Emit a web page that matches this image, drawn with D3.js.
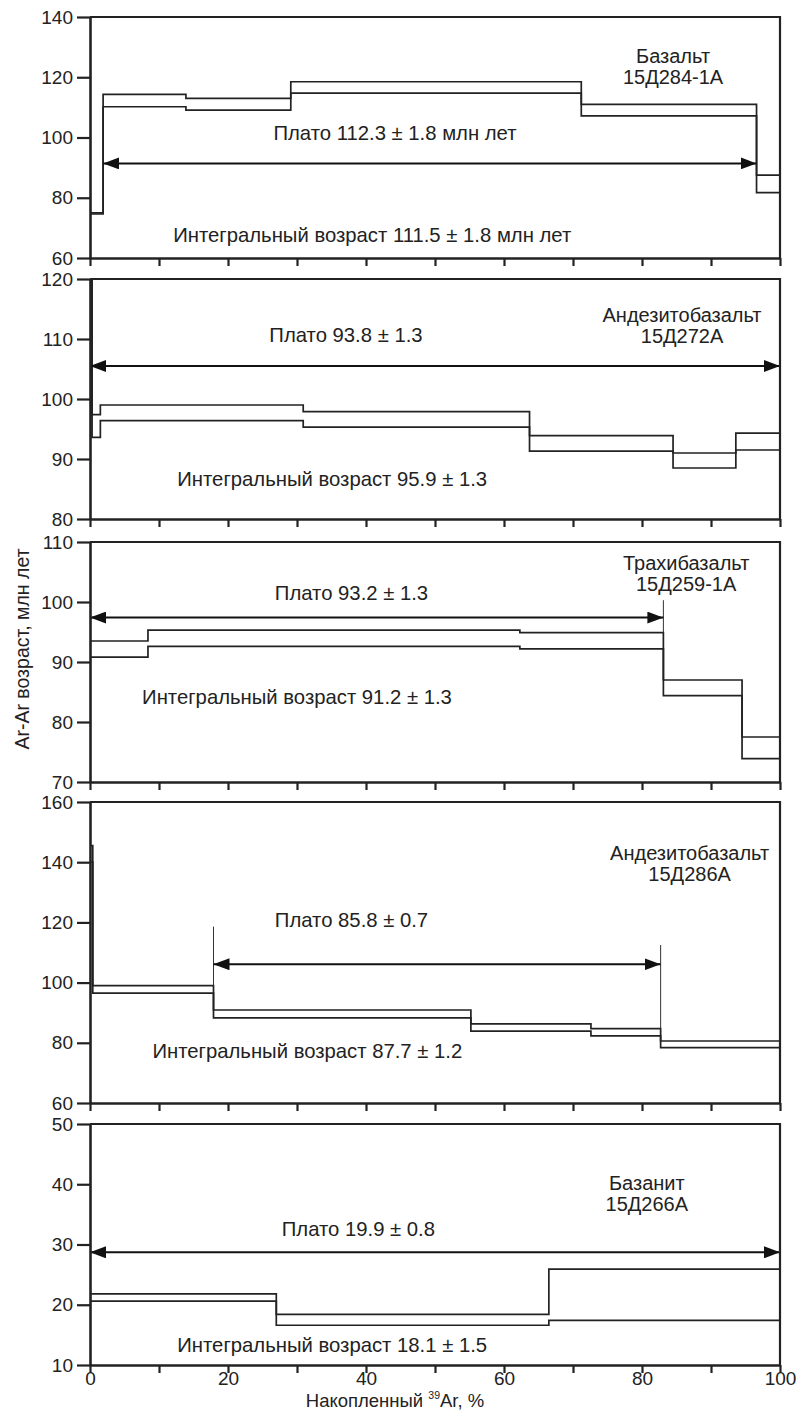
<!DOCTYPE html>
<html>
<head>
<meta charset="utf-8">
<script src="https://cdn.jsdelivr.net/npm/d3@7"></script>
<style>
  body { margin: 0; background: #fff; }
  text { font-family: "Liberation Sans", Arial, sans-serif; fill: #222; }
</style>
</head>
<body>
<div id="chart"></div>
<script>
// step spectra: [start %, end %, low age, high age]
const steps1 = [[0, 1.9, 74.6, 75.0], [1.9, 13.9, 110.2, 114.3], [13.9, 29.1, 109.1, 113.0],
  [29.1, 71.2, 114.7, 118.5], [71.2, 96.6, 107.2, 111.0], [96.6, 100, 81.7, 87.5]];
const steps2 = [[0, 0.3, 121, 125], [0.3, 1.5, 93.6, 97.4], [1.5, 30.9, 96.4, 99.0],
  [30.9, 63.7, 95.3, 97.9], [63.7, 84.5, 91.3, 93.9], [84.5, 93.6, 88.5, 91.0], [93.6, 100, 91.5, 94.3]];
const steps3 = [[0, 8.4, 90.8, 93.5], [8.4, 62.3, 92.6, 95.3], [62.3, 83.1, 92.2, 94.9],
  [83.1, 94.5, 84.4, 87.0], [94.5, 100, 73.9, 77.5]];
const steps4 = [[0, 0.4, 140, 145.5], [0.4, 17.9, 96.5, 99.0], [17.9, 55.2, 88.3, 90.9],
  [55.2, 72.6, 83.9, 86.3], [72.6, 82.7, 82.3, 84.7], [82.7, 100, 78.4, 80.6]];
const steps5 = [[0, 27.0, 20.6, 21.8], [27.0, 66.5, 16.6, 18.4], [66.5, 100, 17.4, 25.9]];

// plateau arrows: [from %, to %, age level]
const plateaus = [[1.9, 96.6, 91.4], [0, 100, 105.5], [0, 83.1, 97.4], [17.9, 82.7, 106.1], [0, 100, 28.7]];
// thin plateau boundary lines: [x %, top age]
const plateauMarks = [[], [], [[83.1, 100.3]], [[17.9, 118.6], [82.7, 112.5]], []];

const yDomains = [[60, 140], [80, 120], [70, 110], [60, 160], [10, 50]];
const yTicks = [[60, 80, 100, 120, 140], [80, 90, 100, 110, 120], [70, 80, 90, 100, 110],
  [60, 80, 100, 120, 140, 160], [10, 20, 30, 40, 50]];
const xTicks = [0, 10, 20, 30, 40, 50, 60, 70, 80, 90, 100];
const xTickLabels = [0, 20, 40, 60, 80, 100];

const plateauLabels = ["Плато 112.3 ± 1.8 млн лет", "Плато 93.8 ± 1.3", "Плато 93.2 ± 1.3",
  "Плато 85.8 ± 0.7", "Плато 19.9 ± 0.8"];
const integralLabels = ["Интегральный возраст 111.5 ± 1.8 млн лет", "Интегральный возраст 95.9 ± 1.3",
  "Интегральный возраст 91.2 ± 1.3", "Интегральный возраст 87.7 ± 1.2", "Интегральный возраст 18.1 ± 1.5"];
const rockNames = ["Базальт", "Андезитобазальт", "Трахибазальт", "Андезитобазальт", "Базанит"];
const sampleIds = ["15Д284-1А", "15Д272А", "15Д259-1А", "15Д286А", "15Д266А"];

// label placement (x % / baseline age)
const plateauLabelPos = [[44.2, 99.2], [37.1, 109.55], [37.9, 100.3], [37.9, 118.4], [38.9, 31.4]];
const integralLabelPos = [[40.9, 65.3], [35.1, 85.5], [30.0, 83.0], [31.5, 75.0], [35.1, 12.2]];
const namePos = [[84.5, 124.7], [85.8, 112.8], [86.4, 105.3], [86.9, 140.7], [80.7, 39.0]];

const allSteps = [steps1, steps2, steps3, steps4, steps5];

const width = 800, height = 1411;
const left = 90, plotW = 690;
const panelTop = [17, 279, 542, 802, 1124];
const panelH = [241, 240, 240, 301, 241];

const svg = d3.select('#chart').append('svg')
  .attr('width', width)
  .attr('height', height);

const defs = svg.append('defs');
defs.append('marker')
  .attr('id', 'arrowEnd')
  .attr('markerUnits', 'userSpaceOnUse')
  .attr('viewBox', '0 0 16 12')
  .attr('refX', 16).attr('refY', 6)
  .attr('markerWidth', 16).attr('markerHeight', 12)
  .attr('orient', 'auto-start-reverse')
  .append('path')
  .attr('d', 'M0,0 L16,6 L0,12 Z')
  .attr('fill', '#111');

const x = d3.scaleLinear().domain([0, 100]).range([0, plotW]);

allSteps.forEach((steps, i) => {
  const h = panelH[i];
  const y = d3.scaleLinear().domain(yDomains[i]).range([h, 0]);

  const g = svg.append('g')
    .attr('transform', `translate(${left},${panelTop[i]})`);

  defs.append('clipPath').attr('id', 'clip' + i)
    .append('rect').attr('x', 0).attr('y', 0).attr('width', plotW).attr('height', h);

  // spectrum envelopes
  const upper = [], lower = [];
  steps.forEach(s => {
    upper.push([s[0], s[3]], [s[1], s[3]]);
    lower.push([s[0], s[2]], [s[1], s[2]]);
  });
  const line = d3.line().x(d => x(d[0])).y(d => y(d[1]));
  const spec = g.append('g').attr('clip-path', `url(#clip${i})`);
  [upper, lower].forEach(pts => {
    spec.append('path')
      .attr('d', line(pts))
      .attr('fill', 'none')
      .attr('stroke', '#222')
      .attr('stroke-width', 1.7);
  });
  // last step closing edge
  const last = steps[steps.length - 1];
  spec.append('line')
    .attr('x1', x(last[1])).attr('x2', x(last[1]))
    .attr('y1', y(last[2])).attr('y2', y(last[3]))
    .attr('stroke', '#222').attr('stroke-width', 1.7);

  // plateau boundary marks
  plateauMarks[i].forEach(m => {
    const st = steps.find(s => Math.abs(s[1] - m[0]) < 0.01);
    g.append('line')
      .attr('x1', x(m[0])).attr('x2', x(m[0]))
      .attr('y1', y(m[1])).attr('y2', y(st ? st[3] : m[1]))
      .attr('stroke', '#333').attr('stroke-width', 1);
  });

  // plateau arrow
  const p = plateaus[i];
  g.append('line')
    .attr('x1', x(p[0])).attr('x2', x(p[1]))
    .attr('y1', y(p[2])).attr('y2', y(p[2]))
    .attr('stroke', '#111')
    .attr('stroke-width', 2)
    .attr('marker-start', 'url(#arrowEnd)')
    .attr('marker-end', 'url(#arrowEnd)');

  // frame: top and right
  g.append('path')
    .attr('d', `M0,0 H${plotW} V${h}`)
    .attr('fill', 'none')
    .attr('stroke', '#222')
    .attr('stroke-width', 2.2);

  // axes
  const yAxis = d3.axisLeft(y).tickValues(yTicks[i]).tickSize(13).tickPadding(4).tickSizeOuter(0);
  const yG = g.append('g').call(yAxis);
  yG.select('.domain').attr('stroke', '#222').attr('stroke-width', 2.6);
  yG.selectAll('.tick line').attr('stroke', '#222').attr('stroke-width', 2.2);
  yG.selectAll('.tick text')
    .attr('font-size', 19)
    .attr('font-family', '"Liberation Sans", Arial, sans-serif')
    .attr('fill', '#222');

  const xAxis = d3.axisBottom(x).tickValues(xTicks).tickSize(8).tickSizeOuter(0)
    .tickFormat(d => (i === 4 && xTickLabels.includes(d)) ? d : '');
  const xG = g.append('g').attr('transform', `translate(0,${h})`).call(xAxis);
  xG.select('.domain').attr('stroke', '#222').attr('stroke-width', 2.6);
  xG.selectAll('.tick line').attr('stroke', '#222').attr('stroke-width', 2.2);
  xG.selectAll('.tick text')
    .attr('font-size', 19)
    .attr('y', 20)
    .attr('dy', 0)
    .attr('font-family', '"Liberation Sans", Arial, sans-serif')
    .attr('fill', '#222');

  // annotations
  g.append('text')
    .attr('x', x(plateauLabelPos[i][0])).attr('y', y(plateauLabelPos[i][1]))
    .attr('text-anchor', 'middle').attr('font-size', 20.3)
    .text(plateauLabels[i]);
  g.append('text')
    .attr('x', x(integralLabelPos[i][0])).attr('y', y(integralLabelPos[i][1]))
    .attr('text-anchor', 'middle').attr('font-size', 20.3)
    .text(integralLabels[i]);
  const nm = g.append('text')
    .attr('x', x(namePos[i][0])).attr('y', y(namePos[i][1]))
    .attr('text-anchor', 'middle').attr('font-size', 20);
  nm.append('tspan').text(rockNames[i]);
  nm.append('tspan').attr('x', x(namePos[i][0])).attr('dy', 20.5).text(sampleIds[i]);
});

// axis titles
svg.append('text')
  .attr('transform', 'translate(29,649) rotate(-90)')
  .attr('text-anchor', 'middle')
  .attr('font-size', 19.5)
  .text('Ar-Ar возраст, млн лет');

const xt = svg.append('text')
  .attr('x', 395).attr('y', 1407)
  .attr('text-anchor', 'middle')
  .attr('font-size', 18.5);
xt.append('tspan').text('Накопленный ');
xt.append('tspan').attr('font-size', 10.5).attr('dy', -8).text('39');
xt.append('tspan').attr('dy', 8).text('Ar, %');
</script>
</body>
</html>
